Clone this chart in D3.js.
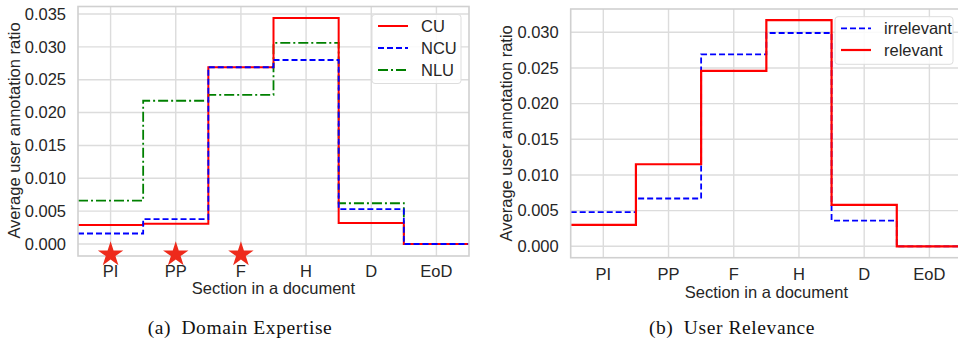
<!DOCTYPE html>
<html>
<head>
<meta charset="utf-8">
<script src="https://cdn.jsdelivr.net/npm/d3@7"></script>
<style>
  body { margin: 0; background: #fff; }
  svg text { font-family: "Liberation Sans", Arial, sans-serif; fill: #262626; }
  .cap { font-family: "Liberation Serif", "DejaVu Serif", serif; fill: #111; letter-spacing: 0.6px; }
</style>
</head>
<body>
<svg id="chart" width="958" height="345"></svg>
<script>
var sections = ["PI", "PP", "F", "H", "D", "EoD"];

// (a) Domain Expertise
var cu  = [0.0029, 0.0031, 0.0269, 0.0344, 0.0032, 0.0];
var ncu = [0.0016, 0.0038, 0.0269, 0.0280, 0.0053, 0.0];
var nlu = [0.0066, 0.0218, 0.0227, 0.0306, 0.0062, 0.0];
var starred = ["PI", "PP", "F"];
var ticksA = [0, 0.005, 0.010, 0.015, 0.020, 0.025, 0.030, 0.035];

// (b) User Relevance
var irrelevant = [0.0048, 0.0067, 0.0269, 0.0299, 0.0036, 0.0];
var relevant   = [0.0030, 0.0115, 0.0246, 0.0317, 0.0058, 0.0];
var ticksB = [0, 0.005, 0.010, 0.015, 0.020, 0.025, 0.030];

var svg = d3.select("#chart");
var grid = "#dcdcdc";
var fs = 16.5;

function panel(cfg) {
    var g = svg.append("g");
    var x = d3.scaleLinear().domain([-0.5, sections.length - 0.5]).range([cfg.left, cfg.right]);
    var y = d3.scaleLinear().domain([0, cfg.yMax]).range([cfg.y0, cfg.yTop]);

    // grid
    g.selectAll(".vg").data(sections).enter().append("line")
        .attr("x1", function (d, i) { return x(i); }).attr("x2", function (d, i) { return x(i); })
        .attr("y1", cfg.top).attr("y2", cfg.bottom)
        .attr("stroke", grid).attr("stroke-width", 1.4);
    g.selectAll(".hg").data(cfg.ticks).enter().append("line")
        .attr("x1", cfg.left).attr("x2", cfg.right)
        .attr("y1", function (d) { return y(d); }).attr("y2", function (d) { return y(d); })
        .attr("stroke", grid).attr("stroke-width", 1.4);

    // tick labels
    g.selectAll(".yt").data(cfg.ticks).enter().append("text")
        .attr("x", cfg.left - 12).attr("y", function (d) { return y(d); })
        .attr("dy", "0.35em").attr("text-anchor", "end").attr("font-size", fs)
        .text(d3.format(".3f"));
    g.selectAll(".xt").data(sections).enter().append("text")
        .attr("x", function (d, i) { return x(i); }).attr("y", cfg.bottom + cfg.xtOff)
        .attr("text-anchor", "middle").attr("font-size", fs)
        .text(function (d) { return d; });

    g.append("text").attr("x", (cfg.left + cfg.right) / 2)
        .attr("y", cfg.bottom + cfg.xlOff).attr("text-anchor", "middle").attr("font-size", fs)
        .text("Section in a document");
    g.append("text").attr("transform", "translate(" + cfg.ylX + "," + cfg.ylY + ") rotate(-90)")
        .attr("text-anchor", "middle").attr("font-size", fs)
        .text("Average user annotation ratio");

    // step lines
    var line = d3.line()
        .x(function (d) { return x(d[0]); })
        .y(function (d) { return y(d[1]); })
        .curve(d3.curveStepAfter);
    cfg.series.forEach(function (s) {
        var pts = s.values.map(function (v, i) { return [i - 0.5, v]; });
        pts.push([s.values.length - 0.5, s.values[s.values.length - 1]]);
        g.append("path").attr("d", line(pts))
            .attr("fill", "none").attr("stroke", s.color).attr("stroke-width", s.width)
            .attr("stroke-dasharray", s.dash);
    });

    // frame
    g.append("rect").attr("x", cfg.left).attr("y", cfg.top)
        .attr("width", cfg.right - cfg.left).attr("height", cfg.bottom - cfg.top)
        .attr("fill", "none").attr("stroke", "#d0d0d0").attr("stroke-width", 1.6);

    // legend
    var lg = cfg.legend;
    g.append("rect").attr("x", lg.x).attr("y", lg.y).attr("width", lg.w).attr("height", lg.h)
        .attr("rx", 3).attr("fill", "#fff").attr("fill-opacity", 0.85)
        .attr("stroke", "#dddddd").attr("stroke-width", 1);
    lg.items.forEach(function (s, i) {
        var yy = lg.y + lg.first + i * lg.step;
        g.append("line").attr("x1", lg.x + 6).attr("x2", lg.x + 36).attr("y1", yy).attr("y2", yy)
            .attr("stroke", s.color).attr("stroke-width", s.width).attr("stroke-dasharray", s.dash);
        g.append("text").attr("x", lg.x + 49).attr("y", yy).attr("dy", "0.35em")
            .attr("font-size", fs).text(s.name);
    });

    g.append("text").attr("class", "cap").attr("x", cfg.capX).attr("y", 334)
        .attr("text-anchor", "middle").attr("font-size", 19.5)
        .text(cfg.caption);
    return { g: g, x: x, y: y };
}

var sCU  = { name: "CU",  values: cu,  color: "#ff0000", width: 2, dash: null };
var sNCU = { name: "NCU", values: ncu, color: "#0000ff", width: 1.8, dash: "6,3" };
var sNLU = { name: "NLU", values: nlu, color: "#008000", width: 1.8, dash: "10,3,2,3" };

var a = panel({
    left: 78, right: 469, top: 6.5, bottom: 256, y0: 244, yTop: 14, yMax: 0.035,
    ticks: ticksA, xtOff: 20.5, xlOff: 38, ylX: 20, ylY: 130.5,
    series: [sNLU, sCU, sNCU],
    legend: { x: 372, y: 14.5, w: 89, h: 69, first: 11.5, step: 22, items: [sCU, sNCU, sNLU] },
    caption: "(a)\u2002Domain Expertise", capX: 240
});

var sIrr = { name: "irrelevant", values: irrelevant, color: "#0000ff", width: 1.8, dash: "6,3" };
var sRel = { name: "relevant",   values: relevant,   color: "#ff0000", width: 2.2, dash: null };

panel({
    left: 570.7, right: 962, top: 9, bottom: 257.7, y0: 246.3, yTop: 32.3, yMax: 0.030,
    ticks: ticksB, xtOff: 22.3, xlOff: 40, ylX: 512, ylY: 133.3,
    series: [sIrr, sRel],
    legend: { x: 835, y: 16.7, w: 118, h: 47.6, first: 11.6, step: 21.7, items: [sIrr, sRel] },
    caption: "(b)\u2002User Relevance", capX: 732
});

// stars marking sections
var star = d3.symbol().type(d3.symbolStar).size(200);
a.g.selectAll(".star").data(starred).enter().append("path")
    .attr("d", star)
    .attr("transform", function (d) { return "translate(" + a.x(sections.indexOf(d)) + "," + (a.y(0) + 10.5) + ")"; })
    .attr("fill", "#ee2a1b");
</script>
</body>
</html>
